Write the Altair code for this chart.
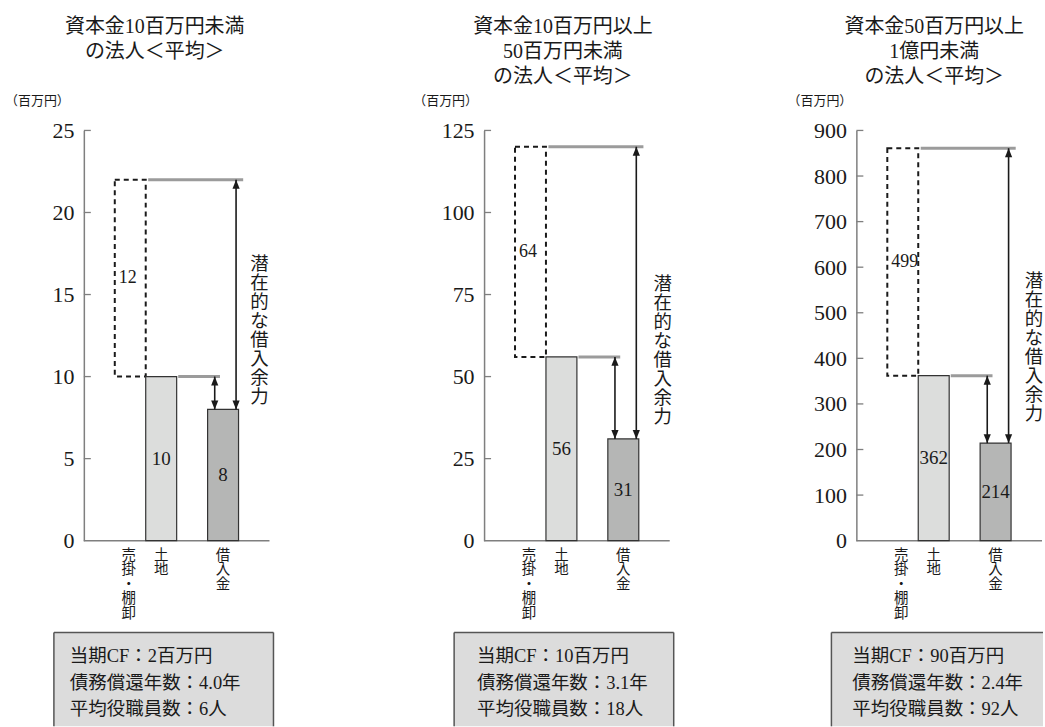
import altair as alt
import pandas as pd

# ---- data -------------------------------------------------------------
titles = [
    ["資本金10百万円未満", "の法人＜平均＞"],
    ["資本金10百万円以上", "50百万円未満", "の法人＜平均＞"],
    ["資本金50百万円以上", "1億円未満", "の法人＜平均＞"],
]
categories = ["売掛・棚卸", "土地", "借入金"]
receivables = [12, 64, 499]      # 売掛・棚卸 (stacked on top of land)
land = [10, 56, 362]             # 土地
borrowings = [8, 31, 214]        # 借入金
y_max = [25, 125, 900]
y_step = [5, 25, 100]
cash_flow = ["2", "10", "90"]
repay_years = ["4.0", "3.1", "2.4"]
staff = ["6", "18", "92"]
capacity_label = "潜在的な借入余力"
unit_label = "（百万円）"

# ---- styling / layout -------------------------------------------------
FONT = "Liberation Serif, Noto Sans CJK JP"
INK = "#1a1a1a"
AXIS = "#7f7f7f"
LEVEL = "#9b9b9b"
LAND_FILL = "#dcdddc"
LOAN_FILL = "#b5b6b5"
BOX_FILL = "#dcdcdc"
BOX_EDGE = "#555555"

SLOT = 31            # pixel width of one category slot
H = 411              # plot height
PANEL_W = [214, 186, 186]
TITLE_X = [71, 79, 78]
UNIT_X = [-79, -71, -69]
CAP_X = [176, 179, 178]
CAP_Y = [134, 154, 151]
BOX_X = [(-30, 190), (-30, 190), (-25, 187)]
BOX_RIGHT_EDGE = [True, True, False]
BOX_TOP, BOX_BOTTOM = 503, 597
BOX_TEXT_X = [-14, -7, -4]
CAT_X = [1.45, 2.5, 4.5]


def one_row():
    return pd.DataFrame({"k": [0]})


def panel(i):
    w = PANEL_W[i]
    top = land[i] + receivables[i]
    xscale = alt.Scale(domain=[0, w / SLOT], nice=False, zero=False)
    yscale = alt.Scale(domain=[0, y_max[i]], nice=False)
    ticks = list(range(0, y_max[i] + 1, y_step[i]))
    yaxis = alt.Axis(values=ticks, ticks=False, tickSize=0, domainColor=AXIS,
                     domainWidth=1.5, labelFont=FONT, labelFontSize=22,
                     labelColor=INK, labelPadding=10, title=None, grid=False)

    def X(f):
        return alt.X(f, type="quantitative", scale=xscale, axis=None)

    def Y(f):
        return alt.Y(f, type="quantitative", scale=yscale, axis=yaxis)

    # summary box under the chart: grey fill plus its visible edges
    bx0, bx1 = BOX_X[i]
    box = alt.Chart(one_row()).mark_rect(fill=BOX_FILL).encode(
        x=alt.value(bx0), x2=alt.value(bx1),
        y=alt.value(BOX_TOP), y2=alt.value(BOX_BOTTOM))
    edges = [
        alt.Chart(one_row()).mark_rule(color=BOX_EDGE, strokeWidth=1.5).encode(
            x=alt.value(bx0), x2=alt.value(bx1), y=alt.value(BOX_TOP)),
        alt.Chart(one_row()).mark_rule(color=BOX_EDGE, strokeWidth=1.5).encode(
            x=alt.value(bx0), y=alt.value(BOX_TOP), y2=alt.value(BOX_BOTTOM)),
    ]
    if BOX_RIGHT_EDGE[i]:
        edges.append(
            alt.Chart(one_row()).mark_rule(color=BOX_EDGE, strokeWidth=1.5).encode(
                x=alt.value(bx1), y=alt.value(BOX_TOP), y2=alt.value(BOX_BOTTOM)))
    box_lines = "\n".join([
        f"当期CF：{cash_flow[i]}百万円",
        f"債務償還年数：{repay_years[i]}年",
        f"平均役職員数：{staff[i]}人",
    ])
    box_text = alt.Chart(pd.DataFrame({"t": [box_lines]})).mark_text(
        font=FONT, fontSize=18.5, lineHeight=26.5, lineBreak="\n",
        align="left", baseline="top", color=INK
    ).encode(x=alt.value(BOX_TEXT_X[i]), y=alt.value(518), text="t:N")

    # axis baseline and inward ticks
    base = alt.Chart(pd.DataFrame({"x0": [0], "x1": [6], "y": [0]})).mark_rule(
        color=AXIS, strokeWidth=1.5
    ).encode(x=X("x0"), x2="x1", y=Y("y"))
    tick_rules = alt.Chart(pd.DataFrame({"t": ticks[1:]})).mark_rule(
        color=AXIS, strokeWidth=1.3
    ).encode(x=alt.value(0), x2=alt.value(7), y=Y("t"))

    # receivables (dashed), land and borrowings
    recv = alt.Chart(pd.DataFrame({"x0": [1], "x1": [2], "lo": [land[i]], "hi": [top]})).mark_rect(
        fill="white", fillOpacity=0, stroke=INK, strokeWidth=2, strokeDash=[5, 4]
    ).encode(x=X("x0"), x2="x1", y=Y("lo"), y2="hi")
    land_bar = alt.Chart(pd.DataFrame({"x0": [2], "x1": [3], "v": [land[i]], "z": [0]})).mark_rect(
        fill=LAND_FILL, stroke="#333333", strokeWidth=1.2
    ).encode(x=X("x0"), x2="x1", y=Y("z"), y2="v")
    loan_bar = alt.Chart(pd.DataFrame({"x0": [4], "x1": [5], "v": [borrowings[i]], "z": [0]})).mark_rect(
        fill=LOAN_FILL, stroke="#333333", strokeWidth=1.2
    ).encode(x=X("x0"), x2="x1", y=Y("z"), y2="v")

    # reference levels
    levels = alt.Chart(pd.DataFrame({"x0": [3.05, 2.08], "x1": [4.4, 5.15],
                                     "y": [land[i], top]})).mark_rule(
        color=LEVEL, strokeWidth=3
    ).encode(x=X("x0"), x2="x1", y=Y("y"))

    # double-headed arrows
    shafts = alt.Chart(pd.DataFrame({"x": [4.23, 4.92], "lo": [borrowings[i]] * 2,
                                     "hi": [land[i], top]})).mark_rule(
        color=INK, strokeWidth=1.6
    ).encode(x=X("x"), y=Y("lo"), y2="hi")
    heads_up = alt.Chart(pd.DataFrame({"x": [4.23, 4.92], "y": [land[i], top]})).mark_point(
        shape="M-0.4,1L0.4,1L0,0Z", size=324, filled=True, color=INK, opacity=1
    ).encode(x=X("x"), y=Y("y"))
    heads_down = alt.Chart(pd.DataFrame({"x": [4.23, 4.92], "y": [borrowings[i]] * 2})).mark_point(
        shape="M-0.4,-1L0.4,-1L0,0Z", size=324, filled=True, color=INK, opacity=1
    ).encode(x=X("x"), y=Y("y"))

    # value labels
    vals = alt.Chart(pd.DataFrame({
        "x": [2.5, 4.5], "y": [land[i] / 2, borrowings[i] / 2],
        "t": [str(land[i]), str(borrowings[i])]})).mark_text(
        font=FONT, fontSize=19, color=INK, baseline="middle"
    ).encode(x=X("x"), y=Y("y"), text="t:N")
    recv_val = alt.Chart(pd.DataFrame({
        "x": [1], "y": [land[i] + receivables[i] / 2], "t": [str(receivables[i])]})).mark_text(
        font=FONT, fontSize=18, color=INK, baseline="middle", align="left", dx=4
    ).encode(x=X("x"), y=Y("y"), text="t:N")

    # vertical category labels
    cats = alt.Chart(pd.DataFrame({"x": CAT_X,
                                   "t": ["\n".join(c) for c in categories]})).mark_text(
        font=FONT, fontSize=14.5, lineHeight=14.5, lineBreak="\n",
        baseline="top", align="center", color=INK
    ).encode(x=X("x"), y=alt.value(H + 8), text="t:N")

    cap = alt.Chart(pd.DataFrame({"t": ["\n".join(capacity_label)]})).mark_text(
        font=FONT, fontSize=18.5, lineHeight=19, lineBreak="\n",
        baseline="middle", align="center", color=INK
    ).encode(x=alt.value(CAP_X[i]), y=alt.value(CAP_Y[i]), text="t:N")

    title = alt.Chart(pd.DataFrame({"t": ["\n".join(titles[i])]})).mark_text(
        font=FONT, fontSize=20, lineHeight=25, lineBreak="\n",
        baseline="top", align="center", color=INK
    ).encode(x=alt.value(TITLE_X[i]), y=alt.value(-114), text="t:N")

    unit = alt.Chart(pd.DataFrame({"t": [unit_label]})).mark_text(
        font=FONT, fontSize=13, baseline="middle", align="left", color=INK
    ).encode(x=alt.value(UNIT_X[i]), y=alt.value(-29), text="t:N")

    return alt.layer(
        box, *edges, box_text, base, tick_rules, recv, land_bar, loan_bar,
        levels, shafts, heads_up, heads_down, vals, recv_val, cats, cap,
        title, unit
    ).properties(width=w, height=H)


chart = alt.hconcat(
    panel(0), panel(1), panel(2), spacing=187, bounds="flush"
).properties(
    padding={"left": 4, "top": 15, "right": 0, "bottom": 0},
    background="white",
).configure_view(stroke="transparent")

chart.save("out.html", embed_options={"renderer": "svg", "actions": False})
